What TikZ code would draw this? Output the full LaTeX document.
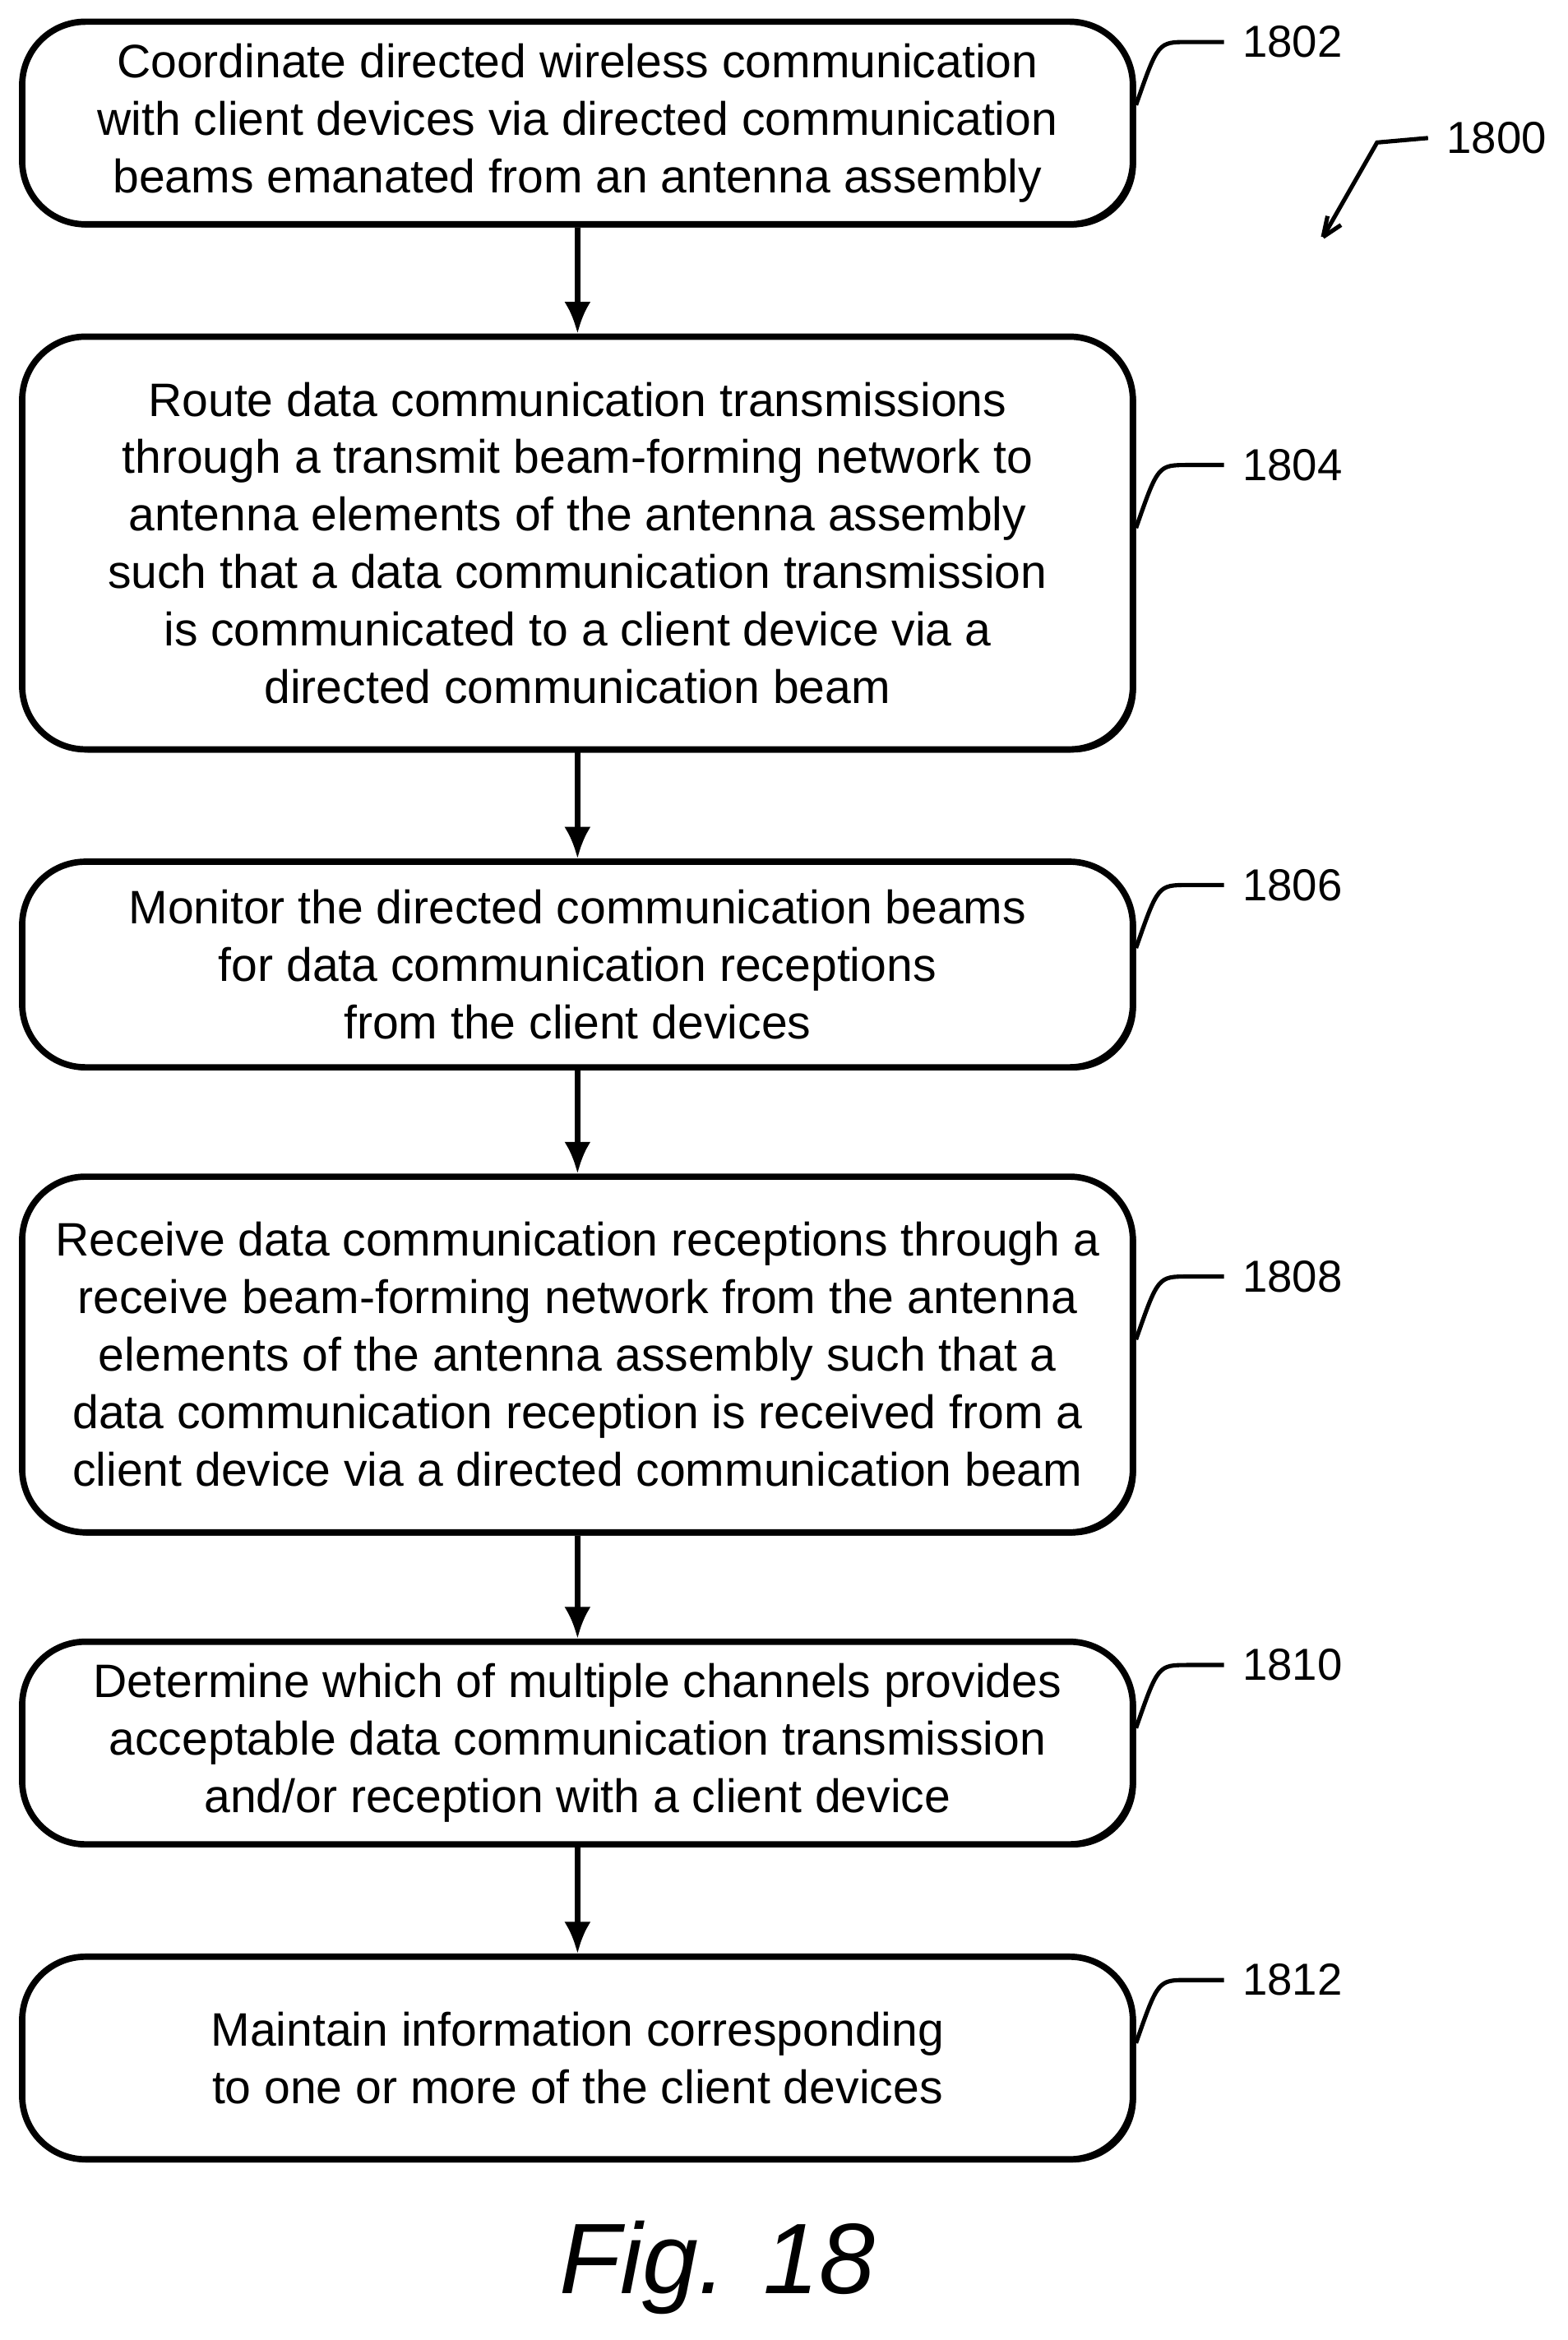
\documentclass[tikz,border=0pt]{standalone}
\usepackage{fontspec}
\setmainfont{Liberation Sans}
\usetikzlibrary{arrows.meta}
\usetikzlibrary{positioning}
\usetikzlibrary{shadows}
\tikzset{
  stepbox/.style={draw, line width=1.2pt, rounded corners=12pt, align=center,
    minimum width=7.4cm, inner sep=0pt, font=\fontsize{8.9}{10.9}\selectfont,
    drop shadow={shadow xshift=0.6pt, shadow yshift=-0.6pt, opacity=1, fill=black}, fill=white},
  flow/.style={line width=1pt, arrows={-Latex[length=6pt, width=5pt]}},
  lead/.style={line width=0.8pt},
  refnum/.style={font=\fontsize{8.5}{10}\selectfont, anchor=west}
}
\begin{document}
\begin{tikzpicture}[x=0.01cm, y=-0.01cm]
\useasboundingbox (0,0) rectangle (1045,1560);
% steps
\node[stepbox, minimum height=1.35cm] (s1802) at (385,82) {Coordinate directed wireless communication\\with client devices via directed communication\\beams emanated from an antenna assembly};
\node[stepbox, minimum height=2.75cm] (s1804) at (385,362) {Route data communication transmissions\\through a transmit beam-forming network to\\antenna elements of the antenna assembly\\such that a data communication transmission\\is communicated to a client device via a\\directed communication beam};
\node[stepbox, minimum height=1.37cm] (s1806) at (385,643) {Monitor the directed communication beams\\for data communication receptions\\from the client devices};
\node[stepbox, minimum height=2.37cm] (s1808) at (385,903) {Receive data communication receptions through a\\receive beam-forming network from the antenna\\elements of the antenna assembly such that a\\data communication reception is received from a\\client device via a directed communication beam};
\node[stepbox, minimum height=1.35cm] (s1810) at (385,1162) {Determine which of multiple channels provides\\acceptable data communication transmission\\and/or reception with a client device};
\node[stepbox, minimum height=1.35cm] (s1812) at (385,1372) {Maintain information corresponding\\to one or more of the client devices};
% flow arrows
\draw[flow] (s1802) -- (s1804);
\draw[flow] (s1804) -- (s1806);
\draw[flow] (s1806) -- (s1808);
\draw[flow] (s1808) -- (s1810);
\draw[flow] (s1810) -- (s1812);
% reference numerals
\foreach \n/\y in {1802/28, 1804/310, 1806/590, 1808/851, 1810/1110, 1812/1320}{
  \node[refnum] (r\n) at (816,\y) {\n};
  \draw[lead] (s\n.east |- 0,\y+42) .. controls (772,\y) .. (792,\y) -- (r\n.west);
}
\node[refnum] (r1800) at (952,92) {1800};
\coordinate (t1800) at (882,158);
\draw[lead] (r1800.west) -- (918,95) -- (t1800);
\draw[line width=0.8pt] (t1800) -- +(3,-14) (t1800) -- +(12,-8);
\node[font=\itshape\fontsize{19}{22}\selectfont] (fig) at (478,1512) {Fig. 18};
\end{tikzpicture}
\end{document}
